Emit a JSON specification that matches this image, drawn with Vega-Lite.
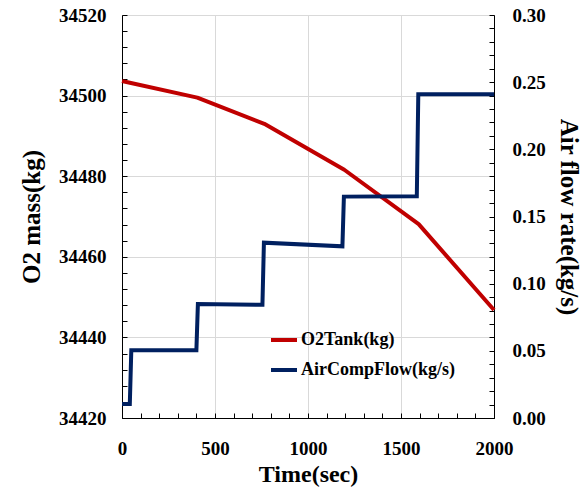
{
  "$schema": "https://vega.github.io/schema/vega-lite/v6.json",
  "width": 372,
  "height": 403,
  "autosize": {"type": "none"},
  "padding": {"left": 122, "top": 15, "right": 89, "bottom": 71},
  "background": "white",
  "config": {
    "view": {"stroke": "black", "strokeWidth": 1},
    "font": "Liberation Serif, serif",
    "axis": {
      "labelFont": "Liberation Serif, serif",
      "labelFontWeight": "bold",
      "labelFontSize": 19,
      "labelColor": "black",
      "titleFont": "Liberation Serif, serif",
      "titleFontWeight": "bold",
      "titleColor": "black",
      "domainColor": "black",
      "tickColor": "black",
      "gridColor": "#d9d9d9",
      "labelOverlap": false,
      "labelFlush": false
    },
    "legend": {
      "labelFont": "Liberation Serif, serif",
      "labelFontWeight": "bold",
      "labelFontSize": 18,
      "labelColor": "black"
    }
  },
  "datasets": {
    "o2": [
      {"t": 0, "v": 34503.6, "series": "O2Tank(kg)"},
      {"t": 30, "v": 34503.3, "series": "O2Tank(kg)"},
      {"t": 405, "v": 34499.5, "series": "O2Tank(kg)"},
      {"t": 765, "v": 34493.0, "series": "O2Tank(kg)"},
      {"t": 1195, "v": 34481.6, "series": "O2Tank(kg)"},
      {"t": 1595, "v": 34468.1, "series": "O2Tank(kg)"},
      {"t": 2000, "v": 34446.8, "series": "O2Tank(kg)"}
    ],
    "air": [
      {"t": 0, "v": 0.0105, "series": "AirCompFlow(kg/s)"},
      {"t": 42, "v": 0.0105, "series": "AirCompFlow(kg/s)"},
      {"t": 50, "v": 0.0505, "series": "AirCompFlow(kg/s)"},
      {"t": 400, "v": 0.0505, "series": "AirCompFlow(kg/s)"},
      {"t": 408, "v": 0.0848, "series": "AirCompFlow(kg/s)"},
      {"t": 755, "v": 0.0843, "series": "AirCompFlow(kg/s)"},
      {"t": 763, "v": 0.1305, "series": "AirCompFlow(kg/s)"},
      {"t": 1185, "v": 0.1278, "series": "AirCompFlow(kg/s)"},
      {"t": 1193, "v": 0.1648, "series": "AirCompFlow(kg/s)"},
      {"t": 1585, "v": 0.1650, "series": "AirCompFlow(kg/s)"},
      {"t": 1593, "v": 0.2410, "series": "AirCompFlow(kg/s)"},
      {"t": 2000, "v": 0.2410, "series": "AirCompFlow(kg/s)"}
    ]
  },
  "encoding": {
    "x": {
      "field": "t",
      "type": "quantitative",
      "scale": {"domain": [0, 2000], "nice": false},
      "axis": {
        "title": "Time(sec)",
        "titleFontSize": 24,
        "titlePadding": 4,
        "values": [0,100,200,300,400,500,600,700,800,900,1000,1100,1200,1300,1400,1500,1600,1700,1800,1900,2000],
        "format": "d",
        "labelExpr": "datum.value % 500 === 0 ? datum.label : ''",
        "tickSize": -5,
        "labelPadding": 26,
        "grid": true,
        "gridOpacity": {"condition": {"test": "datum.value % 500 === 0", "value": 1}, "value": 0}
      }
    },
    "color": {
      "field": "series",
      "type": "nominal",
      "scale": {"domain": ["O2Tank(kg)", "AirCompFlow(kg/s)"], "range": ["#C00000", "#002060"]},
      "legend": {
        "title": null,
        "orient": "none",
        "legendX": 147,
        "legendY": 310,
        "symbolType": "stroke",
        "symbolStrokeWidth": 4,
        "symbolSize": 676,
        "labelOffset": 2,
        "rowPadding": 6
      }
    }
  },
  "layer": [
    {
      "data": {"name": "o2"},
      "mark": {"type": "line", "strokeWidth": 4, "strokeJoin": "round"},
      "encoding": {
        "y": {
          "field": "v",
          "type": "quantitative",
          "scale": {"domain": [34420, 34520], "nice": false, "zero": false},
          "axis": {
            "title": "O2 mass(kg)",
            "titleFontSize": 25,
            "titlePadding": 14,
            "values": [34420,34424,34428,34432,34436,34440,34444,34448,34452,34456,34460,34464,34468,34472,34476,34480,34484,34488,34492,34496,34500,34504,34508,34512,34516,34520],
            "labelExpr": "(datum.value - 34420) % 20 === 0 ? datum.label : ''",
            "format": "d",
            "tickSize": -5,
            "labelPadding": 21,
            "grid": true,
            "gridOpacity": {"condition": {"test": "(datum.value - 34420) % 20 === 0", "value": 1}, "value": 0}
          }
        }
      }
    },
    {
      "data": {"name": "air"},
      "mark": {"type": "line", "strokeWidth": 4},
      "encoding": {
        "y": {
          "field": "v",
          "type": "quantitative",
          "scale": {"domain": [0, 0.3], "nice": false},
          "axis": {
            "orient": "right",
            "title": "Air flow rate(kg/s)",
            "titleFontSize": 25,
            "titlePadding": 10,
            "values": [0,0.01,0.02,0.03,0.04,0.05,0.06,0.07,0.08,0.09,0.1,0.11,0.12,0.13,0.14,0.15,0.16,0.17,0.18,0.19,0.2,0.21,0.22,0.23,0.24,0.25,0.26,0.27,0.28,0.29,0.3],
            "labelExpr": "round(datum.value * 100) % 5 === 0 ? format(datum.value, '.2f') : ''",
            "tickSize": -5,
            "labelPadding": 23,
            "grid": false
          }
        }
      }
    }
  ],
  "resolve": {"scale": {"y": "independent"}}
}
